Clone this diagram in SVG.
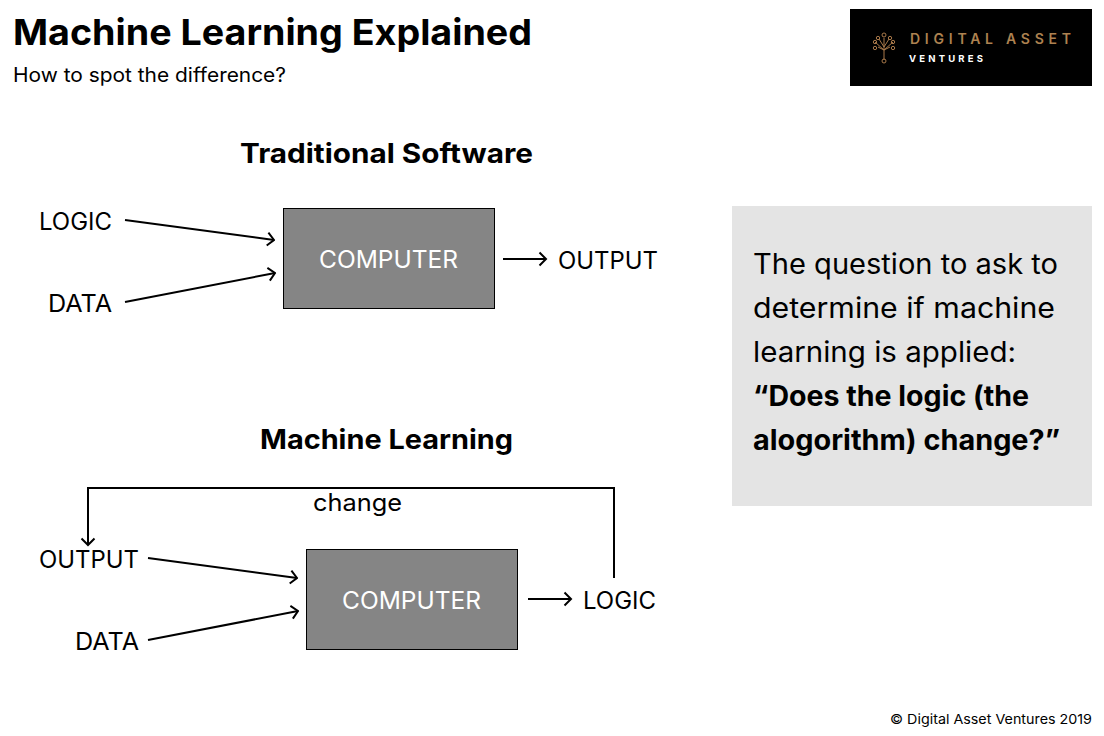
<svg xmlns="http://www.w3.org/2000/svg" width="1104" height="736" viewBox="0 0 1104 736">
<style>
text{font-family:Inter,"Liberation Sans",sans-serif;fill:#000}
.t{font-size:24px;font-weight:400}
.h{font-size:27px;font-weight:700;text-anchor:middle}
.q{font-size:28px;font-weight:400}
.b{font-weight:700}
.box{fill:#858585;stroke:#000;stroke-width:1}
.c{fill:none;stroke:#000;stroke-width:2}
.w{fill:#fff;font-size:24px;font-weight:400;text-anchor:middle}
.g{fill:none;stroke:#a9794a;stroke-width:1}
</style>
<defs>
<marker id="a" markerUnits="userSpaceOnUse" markerWidth="14" markerHeight="16" refX="12.500" refY="8" orient="auto"><path d="M6 1.500 12.500 8 6 14.500" fill="none" stroke="#000" stroke-width="2"/></marker>
</defs>
<rect width="1104" height="736" fill="#fff"/>
<g id="title">
<text x="13" y="45" font-size="36" font-weight="700" textLength="519" lengthAdjust="spacingAndGlyphs">Machine Learning Explained</text>
<text x="13" y="82" font-size="20" font-weight="400" textLength="273" lengthAdjust="spacingAndGlyphs">How to spot the difference?</text>
</g>
<g id="logo">
<rect x="850" y="9" width="242" height="77" fill="#000"/>
<g class="g">
<path d="M884 60V38M884 50 875 42M884 50 893 42M884 47 879 39M884 47 889 39M878 47 884 50 890 47"/>
<circle cx="884" cy="35" r="2"/><circle cx="884" cy="61" r="2"/><circle cx="875" cy="42" r="1.700"/><circle cx="893" cy="42" r="1.700"/><circle cx="878" cy="38" r="1.700"/><circle cx="890" cy="38" r="1.700"/><circle cx="875" cy="48" r="1.700"/><circle cx="893" cy="48" r="1.700"/>
</g>
<text x="910" y="44" font-size="14" font-weight="600" style="fill:#ad8250" textLength="161" lengthAdjust="spacing">DIGITAL ASSET</text>
<text x="909" y="62" font-size="9.500" font-weight="700" style="fill:#fff" textLength="74" lengthAdjust="spacing">VENTURES</text>
</g>
<text class="h" x="386.500" y="163" textLength="293" lengthAdjust="spacingAndGlyphs">Traditional Software</text>
<text class="h" x="386.500" y="449" textLength="253" lengthAdjust="spacingAndGlyphs">Machine Learning</text>
<g id="computer1"><rect class="box" x="283.500" y="208.500" width="211" height="100"/><text class="w" x="388.500" y="268" textLength="139" lengthAdjust="spacingAndGlyphs">COMPUTER</text></g>
<g id="computer2"><rect class="box" x="306.500" y="549.500" width="211" height="100"/><text class="w" x="411.500" y="609" textLength="139" lengthAdjust="spacingAndGlyphs">COMPUTER</text></g>
<g id="logic1"><text class="t" x="39" y="230" textLength="73" lengthAdjust="spacingAndGlyphs">LOGIC</text></g>
<g id="data1"><text class="t" x="48" y="312" textLength="64" lengthAdjust="spacingAndGlyphs">DATA</text></g>
<g id="output1"><text class="t" x="558" y="269" textLength="100" lengthAdjust="spacingAndGlyphs">OUTPUT</text></g>
<g id="output2"><text class="t" x="39" y="568" textLength="100" lengthAdjust="spacingAndGlyphs">OUTPUT</text></g>
<g id="data2"><text class="t" x="75" y="650" textLength="64" lengthAdjust="spacingAndGlyphs">DATA</text></g>
<g id="logic2"><text class="t" x="583" y="609" textLength="73" lengthAdjust="spacingAndGlyphs">LOGIC</text></g>
<text class="t" x="313" y="511" textLength="89" lengthAdjust="spacingAndGlyphs">change</text>
<g id="connectors">
<path class="c" marker-end="url(#a)" d="M125 220 274 240"/>
<path class="c" marker-end="url(#a)" d="M125 302 275 273"/>
<path class="c" marker-end="url(#a)" d="M503 259H546"/>
<path class="c" marker-end="url(#a)" d="M148 558 297 578"/>
<path class="c" marker-end="url(#a)" d="M148 640 298 611"/>
<path class="c" marker-end="url(#a)" d="M528 599H571"/>
<path class="c" marker-end="url(#a)" d="M614 578V488H88V545"/>
</g>
<g id="question">
<rect x="732" y="206" width="360" height="300" fill="#e4e4e4"/>
<text class="q" x="753" y="274" textLength="305" lengthAdjust="spacingAndGlyphs">The question to ask to</text>
<text class="q" x="753" y="318" textLength="302" lengthAdjust="spacingAndGlyphs">determine if machine</text>
<text class="q" x="753" y="362" textLength="263" lengthAdjust="spacingAndGlyphs">learning is applied:</text>
<text class="q b" x="753" y="406" textLength="276" lengthAdjust="spacingAndGlyphs">“Does the logic (the</text>
<text class="q b" x="753" y="450" textLength="307" lengthAdjust="spacingAndGlyphs">alogorithm) change?”</text>
</g>
<text x="890" y="724" font-size="13.500" font-weight="400" textLength="202" lengthAdjust="spacingAndGlyphs">© Digital Asset Ventures 2019</text>
</svg>
